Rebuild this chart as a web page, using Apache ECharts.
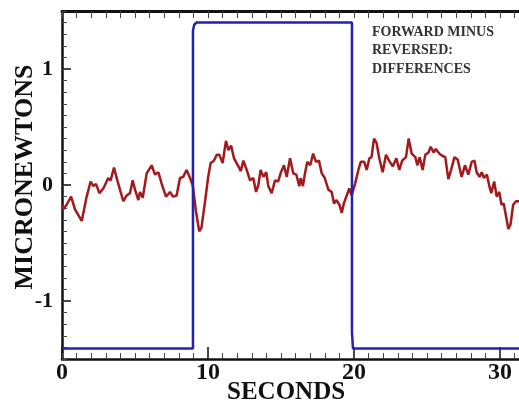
<!DOCTYPE html>
<html>
<head>
<meta charset="utf-8">
<script src="https://cdn.jsdelivr.net/npm/echarts@6/dist/echarts.min.js"></script>
<style>
  html, body { margin: 0; padding: 0; background: #fff; }
  #chart { width: 519px; height: 405px; }
</style>
</head>
<body>
<div id="chart"></div>
<script>
// forward minus reversed difference (red trace)
const diffTime = [0, 0.09, 0.32, 0.62, 0.89, 1.35, 1.69, 1.96, 2.15, 2.33, 2.56, 2.83, 3.17, 3.33, 3.56, 3.79, 3.97,
  4.2, 4.43, 4.66, 4.84, 5.0, 5.23, 5.34, 5.53, 5.8, 6.14, 6.37, 6.6, 6.83, 7.12, 7.4, 7.6, 7.85, 8.08, 8.3, 8.54,
  8.77, 8.95, 9.18, 9.4, 9.55, 9.8, 10.0, 10.18, 10.4, 10.6, 10.78, 11.0, 11.23, 11.4, 11.58, 11.78, 11.9, 12.08,
  12.25, 12.42, 12.65, 12.88, 13.1, 13.29, 13.45, 13.6, 13.8, 13.99, 14.13, 14.36, 14.59, 14.8, 15.0, 15.2, 15.39,
  15.62, 15.84, 16.05, 16.25, 16.35, 16.5, 16.64, 16.8, 17.0, 17.2, 17.4, 17.6, 17.79, 18.0, 18.24, 18.47, 18.63,
  18.8, 19.0, 19.16, 19.3, 19.5, 19.68, 19.84, 20.07, 20.3, 20.46, 20.7, 20.87, 21.05, 21.2, 21.37, 21.55, 21.73,
  21.96, 22.19, 22.4, 22.65, 22.9, 23.1, 23.3, 23.56, 23.74, 23.95, 24.2, 24.34, 24.5, 24.7, 24.88, 25.1, 25.25,
  25.45, 25.6, 25.85, 26.07, 26.25, 26.46, 26.65, 26.88, 27.1, 27.37, 27.6, 27.83, 28.06, 28.25, 28.4, 28.6, 28.75,
  28.9, 29.1, 29.27, 29.4, 29.6, 29.77, 29.95, 30.1, 30.25, 30.4, 30.57, 30.72, 30.9, 31.1, 31.3];
const diffValue = [-0.17, -0.21, -0.17, -0.10, -0.21, -0.31, -0.10, 0.03, -0.01, 0.01, -0.07, -0.03, 0.06, 0.04, 0.15,
  0.04, -0.04, -0.14, -0.09, -0.07, 0.04, -0.04, -0.13, -0.06, -0.11, 0.10, 0.17, 0.09, 0.11, 0.01, -0.10, -0.06,
  -0.10, -0.09, 0.06, 0.07, 0.13, 0.06, 0.0, -0.23, -0.40, -0.37, -0.14, 0.06, 0.19, 0.21, 0.26, 0.26, 0.19, 0.38,
  0.30, 0.34, 0.23, 0.24, 0.16, 0.12, 0.21, 0.13, 0.04, 0.06, -0.06, 0.0, 0.13, 0.07, 0.11, -0.01, -0.07, 0.04,
  0.03, 0.11, 0.17, 0.07, 0.23, 0.10, 0.09, -0.01, 0.06, -0.01, 0.10, 0.20, 0.17, 0.27, 0.20, 0.21, 0.10, 0.06,
  -0.04, -0.06, -0.16, -0.13, -0.17, -0.24, -0.16, -0.09, -0.03, -0.09, 0.01, 0.13, 0.20, 0.20, 0.13, 0.23, 0.24,
  0.40, 0.36, 0.23, 0.11, 0.26, 0.21, 0.16, 0.23, 0.13, 0.21, 0.24, 0.40, 0.27, 0.24, 0.17, 0.24, 0.13, 0.26, 0.28,
  0.33, 0.28, 0.31, 0.27, 0.25, 0.24, 0.05, 0.13, 0.24, 0.22, 0.07, 0.17, 0.09, 0.20, 0.21, 0.11, 0.07, 0.11, 0.06,
  0.09, -0.01, -0.07, 0.03, -0.10, -0.06, -0.17, -0.16, -0.26, -0.38, -0.34, -0.17, -0.14, -0.14];

// applied pulse (blue trace)
const pulseTime = [0, 8.97, 8.97, 9.05, 9.2, 19.86, 19.86, 19.93, 31.3];
const pulseValue = [-1.41, -1.41, 1.33, 1.38, 1.40, 1.40, -1.27, -1.41, -1.41];

const xTickLabels = [0, 10, 20, 30];
const yTickLabels = [-1, 0, 1];

const X_MAX = 31.3;
const Y_MIN = -1.5, Y_MAX = 1.5;
const serif = "'Liberation Serif', 'DejaVu Serif', serif";
const ink = "#111";

function zip(xs, ys) {
  return xs.map((x, i) => [x, ys[i]]);
}

const chart = echarts.init(document.getElementById("chart"));
chart.setOption({
  animation: false,
  backgroundColor: "#fff",
  grid: { left: 62, right: 0, top: 11, bottom: 46, containLabel: false },
  xAxis: [
    {
      type: "value", position: "bottom", min: 0, max: X_MAX,
      axisLine: { onZero: false, lineStyle: { color: ink, width: 2.5 } },
      axisTick: { inside: true, length: 12, customValues: xTickLabels, lineStyle: { color: ink, width: 1.5 } },
      axisLabel: {
        customValues: xTickLabels, margin: 2,
        color: ink, fontFamily: serif, fontWeight: "bold", fontSize: 24,
      },
      splitLine: { show: false },
    },
    {
      type: "value", position: "bottom", min: 0, max: X_MAX, interval: 1,
      axisLine: { show: false, onZero: false },
      axisTick: { inside: true, length: 6, lineStyle: { color: "#444", width: 1 } },
      axisLabel: { show: false },
      splitLine: { show: false },
    },
    {
      type: "value", position: "top", min: 0, max: X_MAX, interval: 1,
      axisLine: { onZero: false, lineStyle: { color: ink, width: 3 } },
      axisTick: { inside: true, length: 7, lineStyle: { color: "#444", width: 1 } },
      axisLabel: { show: false },
      splitLine: { show: false },
    },
  ],
  yAxis: [
    {
      type: "value", position: "left", min: Y_MIN, max: Y_MAX,
      axisLine: { onZero: false, lineStyle: { color: ink, width: 2.5 } },
      axisTick: { inside: true, length: 9, customValues: yTickLabels, lineStyle: { color: ink, width: 1.5 } },
      axisLabel: {
        customValues: yTickLabels, margin: 9,
        color: ink, fontFamily: serif, fontWeight: "bold", fontSize: 22,
      },
      splitLine: { show: false },
    },
    {
      type: "value", position: "left", min: Y_MIN, max: Y_MAX, interval: 0.1,
      axisLine: { show: false, onZero: false },
      axisTick: { inside: true, length: 5, lineStyle: { color: "#444", width: 1 } },
      axisLabel: { show: false },
      splitLine: { show: false },
    },
  ],
  graphic: [
    {
      type: "text", x: 25, y: 177, rotation: Math.PI / 2,
      style: {
        text: "MICRONEWTONS", x: 0, y: 0, fill: ink,
        font: "bold 26px " + serif, align: "center", verticalAlign: "middle",
      },
    },
    {
      type: "text", left: 227, top: 380,
      style: { text: "SECONDS", fill: ink, font: "bold 25px " + serif },
    },
    {
      type: "text", left: 372, top: 23,
      style: {
        text: "FORWARD MINUS\nREVERSED:\nDIFFERENCES", fill: "#333",
        font: "bold 14px " + serif, lineHeight: 18.5,
      },
    },
  ],
  series: [
    {
      name: "difference", type: "line", xAxisIndex: 0, yAxisIndex: 0,
      data: zip(diffTime, diffValue), showSymbol: false,
      lineStyle: { color: "#a3191c", width: 2.5 },
    },
    {
      name: "pulse", type: "line", xAxisIndex: 0, yAxisIndex: 0,
      data: zip(pulseTime, pulseValue), showSymbol: false,
      lineStyle: { color: "#2222b8", width: 2.5 },
    },
  ],
});
window.addEventListener("resize", () => {
  chart.resize();
});
</script>
</body>
</html>
